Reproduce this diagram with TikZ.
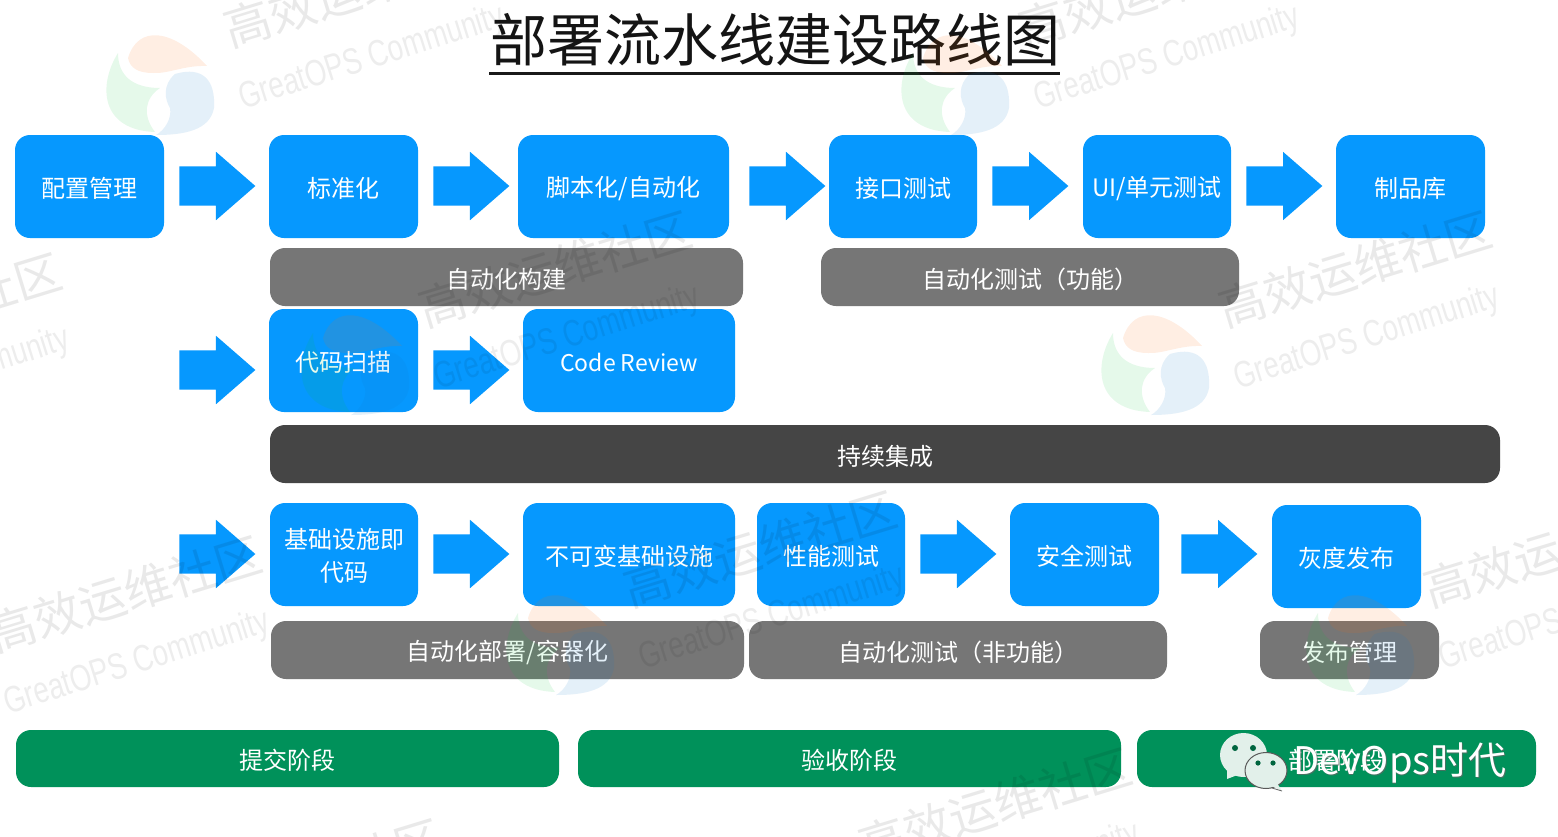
\documentclass[tikz,border=0pt]{standalone}
\usepackage{fontspec}
\setmainfont{Noto Sans CJK SC}
\newfontfamily\wmlatin{Liberation Sans}
\usetikzlibrary{shapes.arrows}
\definecolor{boxblue}{HTML}{0698FE}
\definecolor{boxgray}{HTML}{767676}
\definecolor{boxdark}{HTML}{454545}
\definecolor{boxgreen}{HTML}{00915A}
\definecolor{wechat}{HTML}{E2F0EA}
\tikzset{
  x=1pt,y=-1pt,
  basebox/.style={rounded corners=15pt,inner sep=0pt,outer sep=0pt,text=white,font=\fontsize{24}{33}\selectfont,align=center},
  bluebox/.style={basebox,fill=boxblue},
  graybox/.style={basebox,fill=boxgray},
  darkbox/.style={basebox,fill=boxdark},
  greenbox/.style={basebox,fill=boxgreen},
  blockarrow/.style={single arrow,fill=boxblue,draw=none,inner sep=0pt,outer sep=0pt,
    text height=39pt,text depth=0pt,xshift=-11pt,
    minimum height=76pt,single arrow head extend=14.5pt,single arrow tip angle=82,anchor=center},
  wmcn/.style={text=black,opacity=.085,rotate=17,font=\fontsize{47}{50}\selectfont,inner sep=0pt,anchor=west},
  wmen/.style={text=black,opacity=.07,rotate=17.5,font=\wmlatin\fontsize{37}{40}\selectfont,inner sep=0pt,anchor=west,xscale=.75},
  pics/greatlogo/.style={code={
    \fill[orange!85!red,opacity=.11] (-32,-22) .. controls (-22,-55) and (12,-52) .. (47,-14)
       .. controls (25,-15) and (8,-6) .. (-7,-7) .. controls (-22,-7) and (-30,-12) .. (-32,-22) -- cycle;
    \fill[green!55!teal,opacity=.10] (-42,-27) .. controls (-62,5) and (-60,50) .. (-5,52)
       .. controls (-18,35) and (-15,18) .. (0,8) .. controls (-28,8) and (-42,-5) .. (-42,-27) -- cycle;
    \fill[cyan!60!blue,opacity=.11] (54,28) .. controls (56,-8) and (35,-12) .. (15,-6)
       .. controls (2,5) and (5,20) .. (10,28) .. controls (12,38) and (5,50) .. (-4,55)
       .. controls (25,55) and (50,50) .. (54,28) -- cycle;
  }},
}
\newcommand{\bx}[7]{%
  \pgfmathsetmacro{\bxc}{(#3+#5)/2}\pgfmathsetmacro{\byc}{(#4+#6)/2}%
  \pgfmathsetmacro{\bxw}{#5-#3}\pgfmathsetmacro{\byh}{#6-#4}%
  \node[#2,minimum width=\bxw pt,minimum height=\byh pt] (#1) at (\bxc,\byc) {\raisebox{-2pt}[\height][\depth]{#7}};}
\newcommand{\wmark}[3]{% logo x, logo y, name suffix
  \pic (logo#3) at (#1,#2) {greatlogo};
  \node[wmcn] (wc#3) at ([shift={(65,-50)}]#1,#2) {高效运维社区};
  \node[wmen] (we#3) at ([shift={(80,20)}]#1,#2) {GreatOPS Community};}
\begin{document}
\begin{tikzpicture}
\useasboundingbox (0,0) rectangle (1558,836);
\fill[white] (0,0) rectangle (1558,836);
% title
\node[inner sep=0pt,text=black!92,font=\fontsize{57}{60}\selectfont] (title) at (775,40) {部署流水线建设路线图};
\coordinate (ulL) at (489,73);
\coordinate (ulR) at (1060,73);
\draw[line width=3pt,black!90] (ulL) -- (ulR);
% row 1
\bx{n1}{bluebox}{15}{135}{164}{238}{配置管理}
\bx{n2}{bluebox}{269}{135}{418}{238}{标准化}
\bx{n3}{bluebox}{518}{135}{729}{238}{脚本化/自动化}
\bx{n4}{bluebox}{829}{135}{977}{238}{接口测试}
\bx{n5}{bluebox}{1083}{135}{1231}{238}{UI/单元测试}
\bx{n6}{bluebox}{1336}{135}{1485}{238}{制品库}
\node[blockarrow] (a1) at (217,186) {};
\node[blockarrow] (a2) at (471,186) {};
\node[blockarrow] (a3) at (787,186) {};
\node[blockarrow] (a4) at (1030,186) {};
\node[blockarrow] (a5) at (1284,186) {};
\bx{g1}{graybox}{270}{248}{743}{306}{自动化构建}
\bx{g2}{graybox}{821}{248}{1239}{306}{自动化测试（功能）}
% row 2
\bx{n7}{bluebox}{269}{309}{418}{412}{代码扫描}
\bx{n8}{bluebox}{523}{309}{735}{412}{\fontsize{23}{28}\selectfont Code Review}
\node[blockarrow] (a6) at (217,370) {};
\node[blockarrow] (a7) at (471,370) {};
\bx{d1}{darkbox}{270}{425}{1500}{483}{持续集成}
% row 3
\bx{n9}{bluebox}{270}{503}{418}{606}{\raisebox{-2pt}[\height][\depth]{\tabcolsep=0pt\begin{tabular}{c}基础设施即\\代码\end{tabular}}}
\bx{n10}{bluebox}{523}{503}{735}{606}{不可变基础设施}
\bx{n11}{bluebox}{757}{503}{905}{606}{性能测试}
\bx{n12}{bluebox}{1010}{503}{1159}{606}{安全测试}
\bx{n13}{bluebox}{1272}{505}{1421}{608}{灰度发布}
\node[blockarrow] (a8) at (217,554) {};
\node[blockarrow] (a9) at (471,554) {};
\node[blockarrow] (a10) at (958,554) {};
\node[blockarrow] (a11) at (1219,554) {};
\bx{g3}{graybox}{271}{621}{744}{679}{自动化部署/容器化}
\bx{g4}{graybox}{749}{621}{1167}{679}{自动化测试（非功能）}
\bx{g5}{graybox}{1260}{621}{1439}{679}{发布管理}
% stages
\bx{s1}{greenbox}{16}{730}{559}{787}{提交阶段}
\bx{s2}{greenbox}{578}{730}{1121}{787}{验收阶段}
\bx{s3}{greenbox}{1137}{730}{1536}{787}{部署阶段}
% watermarks
\begin{scope}
\clip (0,0) rectangle (1558,836);
\wmark{160}{80}{A}
\wmark{955}{80}{B}
\wmark{-275}{402}{C}
\wmark{355}{360}{D}
\wmark{1155}{360}{E}
\wmark{-75}{685}{F}
\wmark{560}{640}{G}
\wmark{1360}{640}{H}
\wmark{795}{897}{I}
\wmark{105}{968}{J}
\end{scope}
% badge
\fill[wechat] (1243.5,755) ellipse [x radius=23.5,y radius=22];
\fill[wechat] (1227,770) -- (1227,779) -- (1240,774) -- cycle;
\fill[boxgreen!70!black] (1235,748) circle (3);
\fill[boxgreen!70!black] (1253,748) circle (3);
\fill[wechat,draw=black!65,line width=1pt] (1266,770.5) ellipse [x radius=21,y radius=18];
\fill[wechat] (1272,786) -- (1282,791) -- (1277,783) -- cycle;
\draw[black!60,line width=.8pt] (1272,788) -- (1282,791);
\fill[boxgreen!70!black] (1258,763) circle (2.6);
\fill[boxgreen!70!black] (1273,763) circle (2.6);
\node[text=black!60,opacity=.7,inner sep=0pt,font=\fontsize{38}{42}\selectfont] (brandshadow) at (1400.7,763.7) {DevOps时代};
\node[text=white,inner sep=0pt,font=\fontsize{38}{42}\selectfont] (brand) at (1400,763) {DevOps时代};
\end{tikzpicture}
\end{document}
